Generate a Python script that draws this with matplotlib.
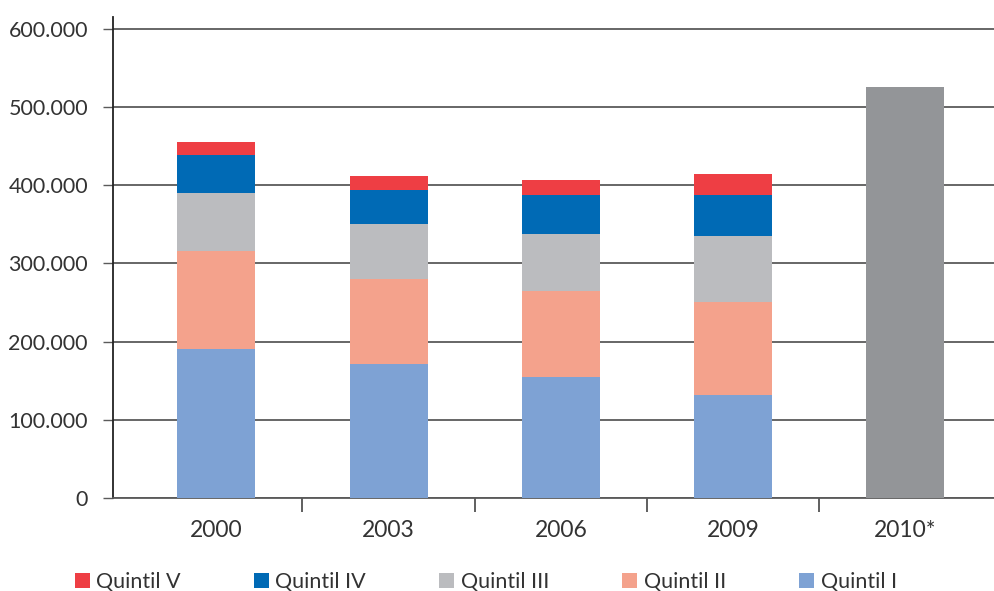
import matplotlib.pyplot as plt
from matplotlib.ticker import FuncFormatter
import numpy as np

anios = ['2000', '2003', '2006', '2009', '2010*']
anios_quintiles = ['2000', '2003', '2006', '2009']

quintil_1 = [190000, 171000, 155000, 132000]
quintil_2 = [126000, 109000, 110000, 118000]
quintil_3 = [74000, 70000, 72000, 85000]
quintil_4 = [49000, 44000, 50000, 52000]
quintil_5 = [16000, 18000, 20000, 27000]
total_2010 = 525000

nombres = ['Quintil I', 'Quintil II', 'Quintil III', 'Quintil IV', 'Quintil V']
colores = ['#7EA2D4', '#F4A28C', '#BBBCBF', '#006AB5', '#EE3E44']
color_2010 = '#939598'

plt.rcParams['font.family'] = ['Lato', 'DejaVu Sans']
color_texto = '#333333'

fig = plt.figure(figsize=(9.95, 5.91), dpi=100)
ax = fig.add_axes([113 / 995, 1 - 498 / 591, 1 - 113 / 995, (498 - 17) / 591])

x = np.arange(len(anios_quintiles))
ancho = 0.453
abajo = np.zeros(len(x))
barras = {}
for nombre, valores, color in zip(nombres, [quintil_1, quintil_2, quintil_3, quintil_4, quintil_5], colores):
    barras[nombre] = ax.bar(x, valores, ancho, bottom=abajo, color=color, label=nombre, zorder=3)
    abajo += np.array(valores)

ax.bar(len(anios) - 1, total_2010, ancho, color=color_2010, zorder=3)

ax.set_ylim(0, 615000)
ax.set_xlim(-0.6, 4.52)
ax.set_yticks(np.arange(0, 600001, 100000))
ax.yaxis.set_major_formatter(FuncFormatter(lambda v, p: f'{int(v):,}'.replace(',', '.')))
ax.yaxis.grid(True, color='#5a5a5a', linewidth=1.3, zorder=1)
ax.tick_params(axis='y', length=7, width=1, color='#5a5a5a', pad=11,
               labelsize=15.5, labelcolor=color_texto)

ax.set_xticks(np.arange(len(anios)))
ax.set_xticklabels(anios)
ax.set_xticks(np.arange(len(anios) - 1) + 0.5, minor=True)
ax.tick_params(axis='x', which='major', length=0, pad=16, labelsize=16.5, labelcolor=color_texto)
ax.tick_params(axis='x', which='minor', length=10, width=1.2, color='#444444')

for lado in ['top', 'right']:
    ax.spines[lado].set_visible(False)
ax.spines['left'].set_color('#222222')
ax.spines['left'].set_linewidth(1.3)
ax.spines['bottom'].set_color('#5a5a5a')
ax.spines['bottom'].set_linewidth(1.3)

orden = ['Quintil V', 'Quintil IV', 'Quintil III', 'Quintil II', 'Quintil I']
fig.legend([barras[n] for n in orden], orden, loc='center left',
           bbox_to_anchor=(66 / 995, 1 - 582 / 591), ncol=5, frameon=False,
           fontsize=15.5, labelcolor=color_texto, handlelength=0.7, handleheight=0.7,
           handletextpad=0.3, columnspacing=3.4, borderaxespad=0)

fig.savefig('out.png', dpi=100)
